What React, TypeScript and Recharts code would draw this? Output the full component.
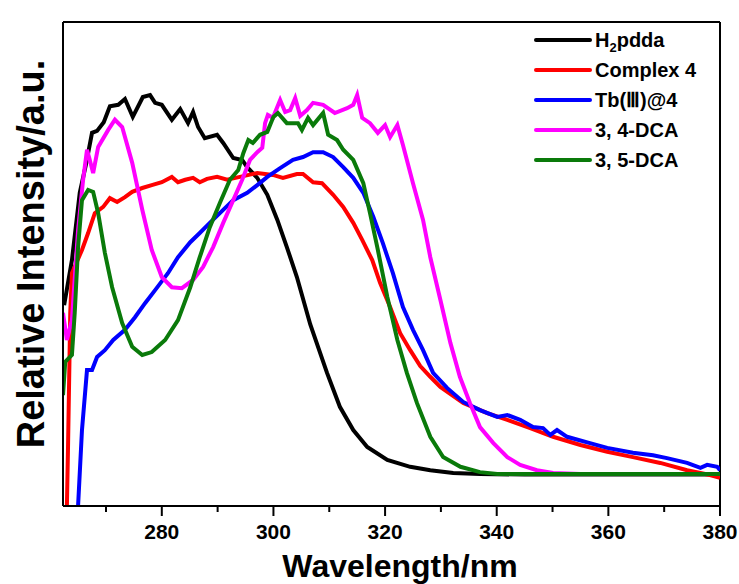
import { LineChart, Line, XAxis, YAxis, ReferenceLine, Legend } from "recharts"

// H2pdda
const h2pddaWl = [262.5, 263.9, 265.3, 266.4, 267.5, 268.4, 269.6, 270.7, 272.2, 273.4, 274.8, 276.6, 277.9, 278.8, 280.0, 281.8, 283.3, 284.7, 285.6, 286.5, 287.7, 289.9, 291.0, 292.8, 294.4, 295.3, 297.1, 298.9, 300.7, 302.4, 304.2, 306.6, 309.6, 311.9, 314.3, 316.8, 320.4, 324.5, 328.1, 332.2, 337.0, 345, 360, 380]
const h2pddaInt = [41.5, 50.8, 64.7, 70.5, 77.1, 77.5, 79.3, 82.6, 82.9, 84.1, 80.4, 84.5, 84.9, 83.3, 82.9, 79.8, 82.0, 79.1, 81.4, 78.3, 76.0, 76.7, 75.0, 71.9, 71.5, 70.0, 67.8, 64.3, 59.1, 53.5, 47.3, 37.5, 27.5, 20.5, 15.7, 12.2, 9.5, 8.1, 7.4, 6.8, 6.6, 6.5, 6.5, 6.5]

// Complex 4
const complexWl = [263.0, 263.2, 263.6, 263.9, 265.7, 266.8, 268.0, 269.5, 270.7, 272.0, 273.4, 274.7, 276.5, 278.2, 280.0, 281.8, 282.9, 284.2, 285.6, 286.8, 288.1, 289.9, 291.7, 294.0, 297.1, 299.9, 301.7, 304.2, 305.3, 307.1, 308.7, 310.7, 312.5, 314.3, 315.9, 317.7, 319.1, 320.9, 322.7, 324.5, 326.3, 328.1, 329.9, 334.0, 338.3, 341.9, 346.0, 350.1, 355.0, 359.8, 364.4, 369.3, 374.1, 378.2, 380.0]
const complexInt = [0, 12.2, 39.9, 48.1, 52.9, 56.4, 60.5, 61.8, 63.6, 62.8, 63.8, 64.9, 65.7, 66.3, 66.9, 68.0, 66.9, 67.4, 67.8, 66.9, 67.6, 68.0, 67.4, 68.0, 68.8, 68.4, 67.8, 68.6, 68.6, 66.9, 66.7, 64.3, 61.8, 58.5, 55.0, 50.8, 46.1, 41.1, 35.7, 32.2, 28.9, 26.7, 24.6, 21.3, 19.2, 17.8, 16.1, 14.3, 12.6, 11.2, 10.1, 8.9, 7.4, 6.4, 5.8]

// Tb(III)@4
const tbWl = [265.0, 265.7, 266.6, 267.5, 268.4, 269.8, 271.3, 273.4, 275.2, 277.0, 278.8, 281.1, 282.9, 285.1, 286.8, 288.6, 290.4, 292.8, 295.3, 297.1, 298.9, 301.2, 303.5, 305.3, 307.1, 308.9, 310.7, 312.5, 314.3, 316.1, 317.9, 319.6, 321.4, 323.2, 325.0, 326.8, 328.6, 331.1, 334.0, 337.0, 340.1, 341.9, 344.2, 346.5, 348.3, 349.6, 350.8, 352.6, 356.7, 359.8, 364.4, 368.0, 370.5, 374.1, 376.5, 377.7, 379.5, 380.0]
const tbInt = [0, 15.7, 28.1, 28.1, 30.8, 32.2, 34.3, 36.4, 39.0, 41.9, 44.6, 48.1, 51.4, 54.5, 56.4, 58.5, 60.5, 63.2, 64.7, 66.3, 68.0, 69.8, 71.5, 72.1, 73.1, 73.1, 72.1, 70.0, 67.8, 64.7, 59.7, 54.3, 48.1, 41.1, 36.4, 32.2, 27.5, 24.4, 21.5, 19.8, 18.4, 18.8, 17.8, 16.3, 16.1, 14.7, 15.7, 14.3, 13.0, 12.0, 11.0, 10.5, 9.9, 8.9, 7.9, 8.5, 8.1, 7.4]

// 3, 4-DCA
const dca34Wl = [262.3, 263.0, 263.9, 265.0, 265.9, 266.6, 267.1, 267.7, 268.6, 270.4, 271.6, 272.9, 274.7, 276.5, 278.2, 280.0, 281.8, 283.6, 285.6, 287.4, 289.2, 291.0, 292.8, 294.4, 295.8, 297.1, 298.0, 298.5, 299.0, 299.9, 301.2, 302.1, 303.0, 303.9, 304.8, 306.0, 307.1, 308.9, 311.0, 313.2, 314.3, 315.0, 315.9, 317.3, 318.7, 320.0, 320.9, 322.2, 323.2, 325.0, 326.8, 328.1, 329.9, 331.7, 333.4, 335.2, 337.0, 339.4, 341.9, 344.2, 347.2, 350.1, 355, 380]
const dca34Int = [39.9, 34.3, 38.4, 57.0, 67.4, 73.6, 71.5, 68.8, 74.2, 77.7, 79.8, 78.3, 70.9, 61.2, 52.9, 47.3, 45.2, 45.0, 46.7, 49.4, 53.5, 58.5, 63.2, 67.4, 71.5, 73.1, 74.0, 79.1, 80.8, 80.2, 83.9, 81.4, 81.8, 84.3, 80.6, 81.8, 83.3, 82.9, 81.2, 82.2, 82.9, 84.9, 80.2, 79.1, 77.1, 78.7, 76.2, 78.7, 74.6, 66.7, 59.1, 51.4, 42.6, 33.7, 26.7, 21.3, 16.3, 13.0, 10.1, 8.5, 7.4, 6.8, 6.6, 6.6]

// 3, 5-DCA
const dca35Wl = [262.3, 262.7, 263.9, 264.4, 265.0, 265.7, 266.8, 267.7, 268.6, 269.8, 271.1, 272.9, 274.7, 276.5, 278.2, 280.6, 282.9, 285.1, 286.8, 288.6, 290.4, 292.2, 293.7, 294.6, 295.5, 296.3, 297.6, 298.9, 300.0, 300.8, 302.4, 304.4, 305.1, 306.2, 307.1, 308.9, 309.8, 311.4, 312.5, 314.3, 316.1, 317.3, 318.6, 320.4, 322.2, 323.9, 325.7, 328.1, 330.4, 333.5, 337.0, 340.1, 380]
const dca35Int = [22.9, 29.8, 31.2, 39.9, 53.5, 63.2, 65.3, 64.9, 60.5, 52.3, 45.2, 37.8, 32.9, 31.2, 31.8, 34.3, 38.4, 45.2, 51.4, 57.6, 62.6, 67.4, 69.4, 72.9, 75.6, 75.0, 76.7, 77.3, 80.4, 81.2, 79.1, 79.1, 77.7, 80.2, 78.7, 81.2, 76.7, 75.6, 73.6, 71.5, 66.7, 60.5, 53.5, 43.2, 34.3, 27.5, 21.3, 14.3, 10.1, 8.1, 7.0, 6.6, 6.6]

const xTicks = [270, 280, 290, 300, 310, 320, 330, 340, 350, 360, 370, 380]

const zip = (xs: number[], ys: number[]) => xs.map((x, i) => ({ x, y: ys[i] }))

const series = [
  { name: "H2pdda", color: "#000000", data: zip(h2pddaWl, h2pddaInt) },
  { name: "Complex 4", color: "#ff0000", data: zip(complexWl, complexInt) },
  { name: "Tb(Ⅲ)@4", color: "#0000ff", data: zip(tbWl, tbInt) },
  { name: "3, 4-DCA", color: "#ff00ff", data: zip(dca34Wl, dca34Int) },
  { name: "3, 5-DCA", color: "#0a7a0a", data: zip(dca35Wl, dca35Int) },
]

const FONT = "'Liberation Sans', Arial, sans-serif"

function AxisTick(props: any) {
  const { x, y, payload } = props
  const major = payload.value % 20 === 0
  return (
    <g>
      <line x1={x} x2={x} y1={y} y2={y + (major ? 10 : 6)} stroke="#000" strokeWidth={2} />
      {major && (
        <text x={x} y={y + 33} textAnchor="middle" fontFamily={FONT} fontWeight="bold" fontSize={21} fill="#000">
          {payload.value}
        </text>
      )}
    </g>
  )
}

function LegendBox() {
  return (
    <div style={{ fontFamily: FONT, fontWeight: "bold", fontSize: 20, color: "#000" }}>
      {series.map((s) => (
        <div key={s.name} style={{ display: "flex", alignItems: "center", height: 30 }}>
          <svg width={60} height={8}>
            <line x1={3} x2={57} y1={4} y2={4} stroke={s.color} strokeWidth={4} strokeLinecap="round" />
          </svg>
          <span style={{ marginLeft: 2, lineHeight: 1 }}>
            {s.name === "H2pdda" ? (
              <>
                H<sub style={{ fontSize: 13, verticalAlign: "-5px", lineHeight: 0 }}>2</sub>pdda
              </>
            ) : (
              s.name
            )}
          </span>
        </div>
      ))}
    </div>
  )
}

export default function App() {
  return (
    <div style={{ position: "absolute", left: 0, top: 0, background: "#fff" }}>
      <LineChart width={739} height={584} margin={{ top: 22, right: 19, bottom: 0, left: 0 }}>
        <XAxis
          type="number"
          dataKey="x"
          domain={[262.3, 380]}
          allowDataOverflow
          ticks={xTicks}
          interval={0}
          height={78}
          tickSize={0}
          tickMargin={0}
          tickLine={false}
          tick={<AxisTick />}
          axisLine={{ stroke: "#000", strokeWidth: 2 }}
          label={(p: any) => {
            const vb = p.viewBox
            return (
              <text x={400} y={vb.y + 71} textAnchor="middle" fontFamily={FONT} fontWeight="bold" fontSize={32} fill="#000">
                Wavelength/nm
              </text>
            )
          }}
        />
        <YAxis
          type="number"
          domain={[0, 100]}
          allowDataOverflow
          width={63}
          tick={false}
          tickLine={false}
          axisLine={{ stroke: "#000", strokeWidth: 2 }}
          label={() => (
            <text x={44} y={254} transform="rotate(-90, 44, 254)" textAnchor="middle" fontFamily={FONT} fontWeight="bold" fontSize={38} fill="#000">
              Relative Intensity/a.u.
            </text>
          )}
        />
        <ReferenceLine x={380} stroke="#000" strokeWidth={2} />
        <ReferenceLine y={100} stroke="#000" strokeWidth={2} />
        {series.map((s) => (
          <Line
            key={s.name}
            data={s.data}
            dataKey="y"
            name={s.name}
            type="linear"
            stroke={s.color}
            strokeWidth={4}
            dot={false}
            activeDot={false}
            isAnimationActive={false}
          />
        ))}
        <Legend
          layout="vertical"
          align="center"
          verticalAlign="middle"
          content={<LegendBox />}
          wrapperStyle={{ position: "absolute", left: 533, top: 25, width: 200, height: 150 }}
        />
      </LineChart>
    </div>
  )
}
